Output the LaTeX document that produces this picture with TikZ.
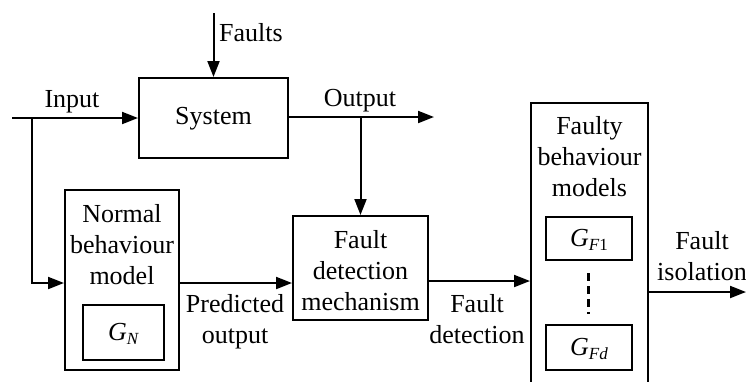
\documentclass[tikz,border=0pt]{standalone}
\usepackage{fontspec}
\setmainfont{Liberation Serif}
\usetikzlibrary{arrows.meta}
\newcommand{\subt}[1]{\raisebox{-0.35ex}{\fontsize{17}{17}\selectfont #1}}
\begin{document}
\begin{tikzpicture}[x=1pt,y=-1pt,
  box/.style={draw,line width=2pt,rectangle,inner sep=0pt},
  txt/.style={font=\fontsize{26}{31}\selectfont,align=center,inner sep=0pt},
  conn/.style={line width=2pt,-{Triangle[length=16pt,width=12pt]}},
  plain/.style={line width=2pt}]
\useasboundingbox (0,0) rectangle (746,381);
% boxes
\node[box,minimum width=149pt,minimum height=80pt] (sys) at (213.5,118) {};
\node[txt] (systxt) at (213.5,119) {System};
\node[box,minimum width=114pt,minimum height=180pt] (nbm) at (122,280) {};
\node[txt,anchor=north] (nbmtxt) at (122,204) {Normal\\behaviour\\model};
\node[box,minimum width=81pt,minimum height=55pt] (gn) at (123.5,332.5) {};
\node[txt] (gntxt) at (123.5,334) {\textit{G}\subt{\textit{N}}};
\node[box,minimum width=135pt,minimum height=104pt] (fdm) at (360.5,268) {};
\node[txt,anchor=north] (fdmtxt) at (360.5,230) {Fault\\detection\\mechanism};
\node[box,minimum width=117pt,minimum height=290pt] (fbm) at (589.5,248) {};
\node[txt,anchor=north] (fbmtxt) at (589.5,116) {Faulty\\behaviour\\models};
\node[box,minimum width=86pt,minimum height=43pt] (gf1) at (589,238.5) {};
\node[txt] (gf1txt) at (589,240) {\textit{G}\subt{\textit{F}1}};
\node[box,minimum width=86pt,minimum height=45pt] (gfd) at (589,347.5) {};
\node[txt] (gfdtxt) at (589,349) {\textit{G}\subt{\textit{Fd}}};
% coordinates
\coordinate (ftop) at (213.5,13);
\coordinate (inl) at (12,118);
\coordinate (inb) at (32,118);
\coordinate (nbin) at (32,283);
\coordinate (outr) at (434,117);
\coordinate (outb) at (360.5,117);
\coordinate (isor) at (746,292);
\coordinate (dtop) at (588,273);
\coordinate (dbot) at (588,314);
% connectors
\draw[conn] (ftop) -- (sys.north);
\draw[conn] (inl) -- (sys.west |- inl);
\draw[conn] (inb) -- (nbin) -- (nbm.west |- nbin);
\draw[conn] (sys.east |- outr) -- (outr);
\draw[conn] (outb) -- (fdm.north);
\draw[conn] (nbm.east |- nbin) -- (fdm.west |- nbin);
\draw[conn] (fdm.east |- 0,281) -- (fbm.west |- 0,281);
\draw[conn] (fbm.east |- isor) -- (isor);
\draw[line width=3pt,dash pattern=on 8pt off 5pt] (dtop) -- (dbot);
% labels
\node[txt,anchor=west] (lfaults) at (219,33) {Faults};
\node[txt] (linput) at (72,102) {Input};
\node[txt] (loutput) at (360,101) {Output};
\node[txt] (lpred) at (235,322) {Predicted\\output};
\node[txt] (ldet) at (477,319) {Fault\\detection};
\node[txt] (liso) at (702,256) {Fault\\isolation};
\end{tikzpicture}
\end{document}
